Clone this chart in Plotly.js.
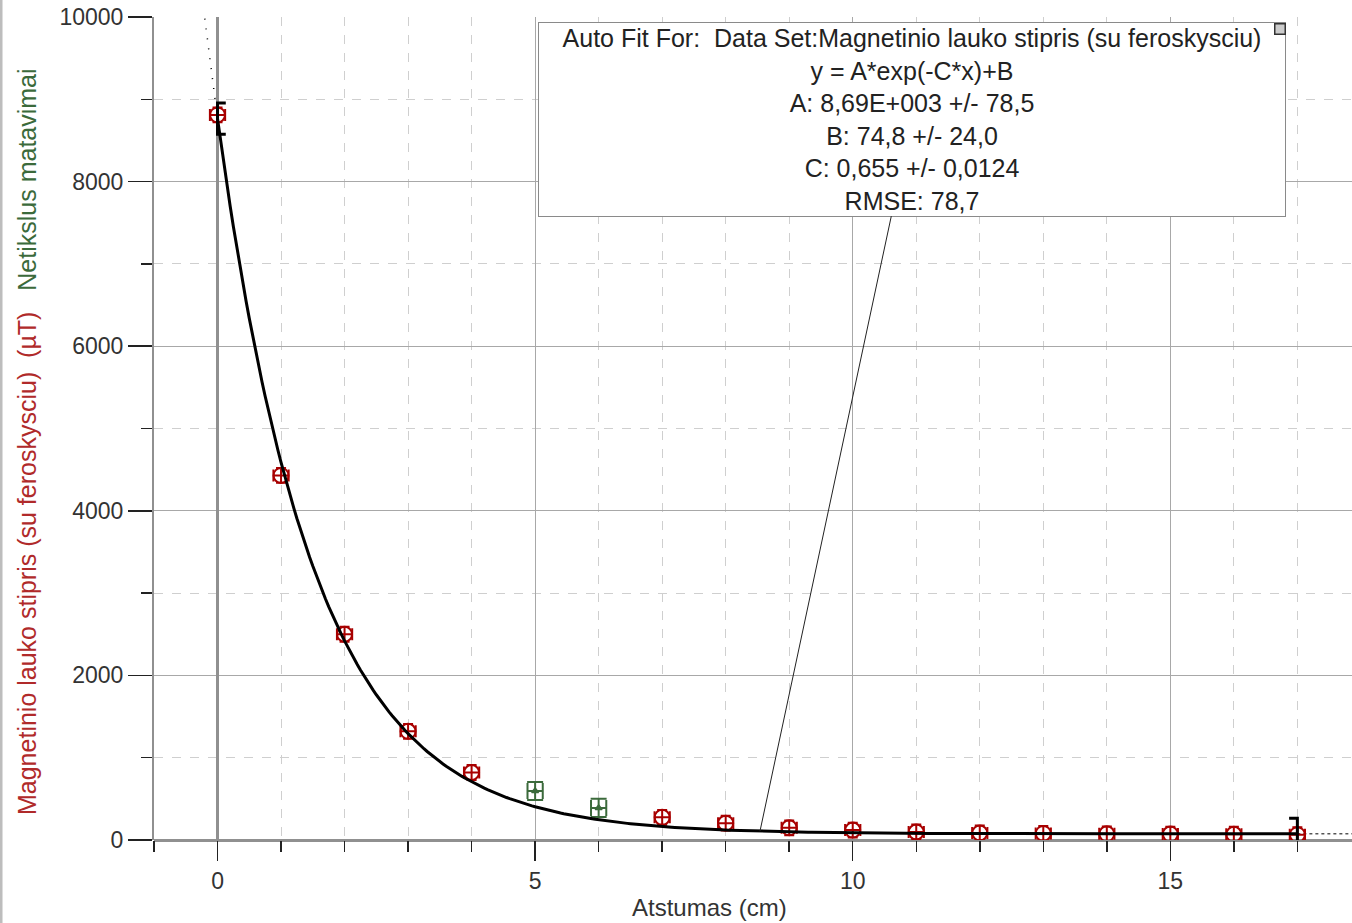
<!DOCTYPE html>
<html>
<head>
<meta charset="utf-8">
<script src="https://cdn.plot.ly/plotly-3.0.1.min.js"></script>
<style>html,body{margin:0;padding:0;background:#fff;}#chart{width:1352px;height:923px;}</style>
</head>
<body>
<div id="chart"></div>
<script>
// ---- data ----
const redX = [0, 1, 2, 3, 4, 7, 8, 9, 10, 11, 12, 13, 14, 15, 16, 17];
const redY = [8810, 4430, 2500, 1320, 820, 275, 205, 148, 120, 97, 85, 80, 75, 72, 70, 65];
const greenX = [5, 6];
const greenY = [595, 390];
const errX = 0.12;   // horizontal uncertainty (cm)
const errY = 90;     // vertical uncertainty (µT)

// fit parameters shown in the box
const fitA = 8690, fitB = 74.8, fitC = 0.655;
const fitStart = 0, fitEnd = 17;
const fitLines = [
  'Auto Fit For:  Data Set:Magnetinio lauko stipris (su feroskysciu)',
  'y = A*exp(-C*x)+B',
  'A: 8,69E+003 +/- 78,5',
  'B: 74,8 +/- 24,0',
  'C: 0,655 +/- 0,0124',
  'RMSE: 78,7'
];
const xTitle = 'Atstumas (cm)';
const yTitleRed = 'Magnetinio lauko stipris (su feroskysciu)&nbsp;&nbsp;(µT)';
const yTitleGreen = 'Netikslus matavimai';

// ---- fit curve evaluated from the displayed model ----
const f = x => fitA * Math.exp(-fitC * x) + fitB;
const fitX = [], fitY = [];
for (let i = 0; i <= 340; i++) { const x = fitStart + (fitEnd - fitStart) * i / 340; fitX.push(x); fitY.push(f(x)); }
const extLX = [], extLY = [];
for (let i = 0; i <= 10; i++) { const x = -0.2 + 0.2 * i / 10; extLX.push(x); extLY.push(f(x)); }
const extRX = [fitEnd, 17.9], extRY = [f(fitEnd), f(17.9)];

const RED = '#a80000', GREEN = '#3b6a3b';
const FONT = 'Liberation Sans, Arial, sans-serif';

// fit-range brackets
const bw = 0.13, bh = 190;
const y0 = f(fitStart), y1 = f(fitEnd);
const brX = [fitStart + bw, fitStart, fitStart, fitStart + bw, null, fitEnd - bw, fitEnd, fitEnd, fitEnd - bw];
const brY = [y0 + bh, y0 + bh, y0 - bh, y0 - bh, null, y1 + bh, y1 + bh, y1 - bh, y1 - bh];

const traces = [
  { x: extLX, y: extLY, mode: 'lines', line: { color: '#000', width: 1.5, dash: '1px,9px' }, hoverinfo: 'skip', showlegend: false },
  { x: extRX, y: extRY, mode: 'lines', line: { color: '#000', width: 1, dash: 'dot' }, hoverinfo: 'skip', showlegend: false },
  {
    x: redX, y: redY, mode: 'markers', showlegend: false,
    marker: { symbol: 'circle-open', size: 15, color: RED, line: { width: 2, color: RED } },
    error_x: { type: 'constant', value: errX, width: 6, thickness: 2, color: RED },
    error_y: { type: 'constant', value: errY, width: 5, thickness: 2, color: RED }
  },
  {
    x: greenX, y: greenY, mode: 'markers', showlegend: false,
    marker: { symbol: 'triangle-up-open', size: 6, color: GREEN, line: { width: 1.5, color: GREEN } },
    error_x: { type: 'constant', value: errX, width: 8, thickness: 2, color: GREEN },
    error_y: { type: 'constant', value: errY + 20, width: 8, thickness: 2, color: GREEN }
  },
  { x: fitX, y: fitY, mode: 'lines', line: { color: '#000', width: 3 }, hoverinfo: 'skip', showlegend: false },
  { x: brX, y: brY, mode: 'lines', line: { color: '#000', width: 3 }, hoverinfo: 'skip', showlegend: false, cliponaxis: false }
];

const arrowX = 8.54;
const layout = {
  width: 1352, height: 923,
  margin: { l: 154, r: 0, t: 17, b: 83 },
  paper_bgcolor: '#fff', plot_bgcolor: '#fff',
  font: { family: FONT, color: '#222', size: 23 },
  showlegend: false,
  xaxis: {
    range: [-1, 17.86], dtick: 5, tick0: 0,
    ticks: 'outside', ticklen: 20, tickwidth: 1.5, tickcolor: '#222',
    showgrid: true, gridcolor: '#a8a8a8', gridwidth: 1,
    zeroline: true, zerolinecolor: '#909090', zerolinewidth: 3,
    showline: false,
    tickfont: { size: 23, color: '#333' },
    minor: { dtick: 1, ticks: 'outside', ticklen: 11, tickwidth: 1.5, tickcolor: '#222', showgrid: true, gridcolor: '#cfcfcf', griddash: 'dash', gridwidth: 1 }
  },
  yaxis: {
    range: [0, 10000], dtick: 2000, tick0: 0, tickformat: 'd',
    ticks: 'outside', ticklen: 24, tickwidth: 1.5, tickcolor: '#222',
    showgrid: true, gridcolor: '#a8a8a8', gridwidth: 1,
    zeroline: true, zerolinecolor: '#909090', zerolinewidth: 3,
    showline: true, linecolor: '#909090', linewidth: 2,
    tickfont: { size: 23, color: '#333' },
    minor: { dtick: 1000, ticks: 'outside', ticklen: 11, tickwidth: 1.5, tickcolor: '#222', showgrid: true, gridcolor: '#cfcfcf', griddash: 'dash', gridwidth: 1 }
  },
  annotations: [
    {
      x: arrowX, y: f(arrowX), xref: 'x', yref: 'y',
      ax: 152, ay: -712, axref: 'pixel', ayref: 'pixel',
      showarrow: true, arrowhead: 0, arrowwidth: 1, arrowcolor: '#222',
      text: fitLines.join('<br>'), align: 'center',
      font: { family: FONT, size: 25, color: '#222' },
      bgcolor: '#fff', bordercolor: '#8a8a8a', borderwidth: 1, borderpad: 0,
      width: 746, height: 193
    },
    {
      xref: 'paper', yref: 'paper', x: 0.9403, y: 0.986, xanchor: 'center', yanchor: 'middle',
      showarrow: false, text: '&nbsp;', font: { size: 4 },
      bgcolor: '#cccccc', bordercolor: '#333', borderwidth: 1.5, borderpad: 0, width: 9, height: 9
    },
    {
      xref: 'paper', yref: 'paper', x: 0.464, y: -0.0826, xanchor: 'center', yanchor: 'middle',
      showarrow: false, text: xTitle, font: { family: FONT, size: 24, color: '#333' }
    },
    {
      xref: 'paper', yref: 'paper', x: -0.106, y: 0.4836, xanchor: 'center', yanchor: 'middle',
      textangle: -90, showarrow: false,
      text: '<span style="color:' + '#b02a2a' + '">' + yTitleRed + '</span>&nbsp;&nbsp;&nbsp;<span style="color:' + GREEN + '">' + yTitleGreen + '</span>',
      font: { family: FONT, size: 25 }
    }
  ],
  shapes: [
    { type: 'line', xref: 'paper', yref: 'paper', x0: -0.1277, x1: -0.1277, y0: -0.101, y1: 1.0207, line: { color: '#bdbdbd', width: 3 } }
  ]
};

Plotly.newPlot('chart', traces, layout, { staticPlot: true, displayModeBar: false });
</script>
</body>
</html>
